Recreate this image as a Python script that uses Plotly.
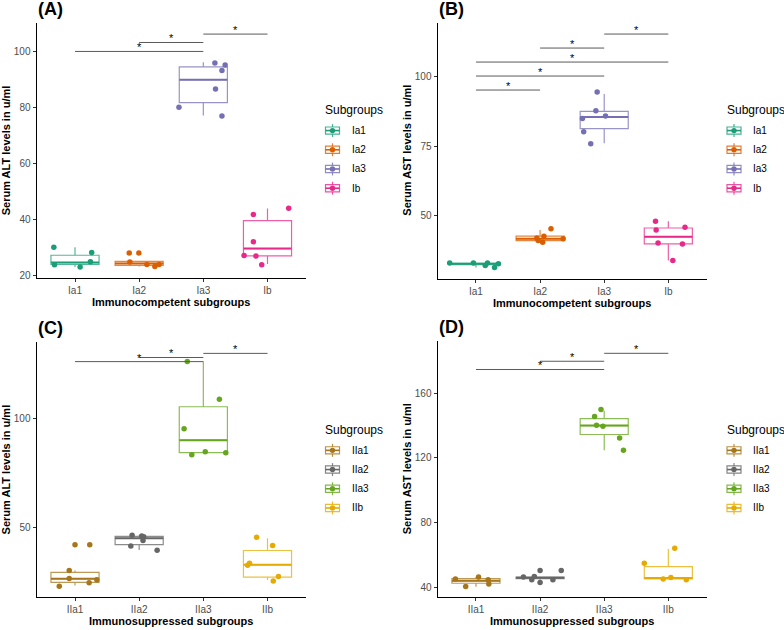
import plotly.graph_objects as go

W, H = 784, 630
FONT = "Liberation Sans, Arial, Helvetica, sans-serif"

# ---------------- data ----------------
cats_a = ["Ia1", "Ia2", "Ia3", "Ib"]
cats_c = ["IIa1", "IIa2", "IIa3", "IIb"]
colors_a = ["#1B9E77", "#D95F02", "#7570B3", "#E7298A"]
colors_c = ["#A6761D", "#666666", "#66A61E", "#E6AB02"]

# Panel A: serum ALT, immunocompetent subgroups
alt_ia1 = [30.1, 23.8, 23.0, 28.2, 24.9]
alt_ia2 = [28.0, 28.0, 24.8, 23.9, 23.2, 23.9]
alt_ia3 = [95.9, 95.2, 93.2, 86.6, 80.1, 76.9]
alt_ib = [27.1, 41.8, 32.0, 26.9, 23.8, 44.0]
jit_alt_ia1 = [-0.33, -0.32, 0.08, 0.26, 0.24]
jit_alt_ia2 = [-0.155, -0.005, -0.145, 0.12, 0.245, 0.31]
jit_alt_ia3 = [0.18, 0.34, 0.29, 0.19, -0.38, 0.29]
jit_alt_ib = [-0.365, -0.22, -0.22, -0.18, -0.09, 0.33]
a_q1 = [23.9, 23.6, 81.7, 27.0]
a_med = [24.6, 24.3, 89.9, 29.6]
a_q3 = [27.2, 25.0, 94.5, 39.6]
a_lo = [23.0, 23.2, 77.1, 24.1]
a_hi = [30.1, 25.0, 96.1, 43.9]
a_sig = [(1, 3, 100.0), (2, 3, 103.2), (3, 4, 106.2)]

# Panel B: serum AST, immunocompetent subgroups
ast_ia1 = [33.2, 33.2, 32.3, 33.2, 31.6, 32.9]
ast_ia2 = [41.2, 40.6, 42.8, 45.4, 41.9, 42.1]
ast_ia3 = [94.3, 87.6, 85.7, 84.8, 80.1, 75.8]
ast_ib = [48.1, 45.0, 46.0, 40.3, 40.0, 34.1]
jit_ast_ia1 = [-0.41, -0.04, 0.145, 0.18, 0.29, 0.35]
jit_ast_ia2 = [-0.03, 0.04, 0.06, 0.17, 0.36, -0.05]
jit_ast_ia3 = [-0.11, -0.13, 0.02, -0.34, -0.32, -0.21]
jit_ast_ib = [-0.2, -0.19, 0.26, -0.16, 0.22, 0.07]
b_q1 = [32.6, 41.2, 81.2, 40.0]
b_med = [32.9, 41.9, 85.4, 42.6]
b_q3 = [33.1, 42.8, 87.4, 45.7]
b_lo = [31.6, 40.7, 76.0, 34.1]
b_hi = [33.2, 45.0, 93.6, 48.1]
b_sig = [(1, 2, 95.0), (1, 3, 100.0), (1, 4, 105.0), (2, 3, 110.0), (3, 4, 115.0)]

# Panel C: serum ALT, immunosuppressed subgroups
alt_iia1 = [41.9, 41.9, 30.0, 26.3, 22.7, 24.3, 25.7]
alt_iia2 = [46.2, 45.9, 45.6, 43.8, 41.3, 39.3]
alt_iia3 = [126.3, 108.9, 95.3, 83.4, 84.7, 84.3]
alt_iib = [45.3, 41.5, 33.3, 32.4, 27.2, 25.1]
jit_alt_iia1 = [0.0, 0.23, -0.09, -0.09, -0.245, 0.22, 0.34]
jit_alt_iia2 = [-0.11, 0.04, 0.07, 0.06, -0.13, 0.28]
jit_alt_iia3 = [-0.25, 0.25, -0.30, -0.18, 0.03, 0.35]
jit_alt_iib = [-0.17, 0.08, -0.28, -0.31, 0.17, 0.09]
c_q1 = [24.5, 41.9, 84.3, 26.9]
c_med = [26.2, 44.8, 90.1, 32.6]
c_q3 = [29.1, 45.7, 105.5, 39.2]
c_lo = [23.1, 39.4, 84.3, 25.6]
c_hi = [30.0, 46.2, 126.3, 44.9]
c_sig = [(1, 3, 126.3), (2, 3, 128.2), (3, 4, 130.1)]

# Panel D: serum AST, immunosuppressed subgroups
ast_iia1 = [45.1, 40.4, 46.2, 44.5, 42.0]
ast_iia2 = [46.2, 44.5, 46.6, 50.3, 42.9, 44.5, 50.3]
ast_iia3 = [149.8, 145.6, 140.1, 139.5, 132.3, 124.7]
ast_iib = [54.8, 64.0, 45.1, 45.9, 44.5]
jit_ast_iia1 = [-0.32, -0.16, 0.04, 0.19, 0.2]
jit_ast_iia2 = [-0.26, -0.13, -0.09, 0.0, 0.0, 0.2, 0.33]
jit_ast_iia3 = [-0.05, -0.15, -0.12, -0.02, 0.24, 0.30]
jit_ast_iib = [-0.375, 0.10, -0.08, 0.04, 0.28]
d_q1 = [42.4, 45.3, 134.4, 45.1]
d_med = [43.9, 45.8, 139.9, 45.7]
d_q3 = [45.3, 46.2, 144.2, 52.7]
d_lo = [40.2, 44.5, 124.7, 45.1]
d_hi = [46.2, 46.6, 149.1, 63.6]
d_sig = [(1, 3, 174.6), (2, 3, 179.7), (3, 4, 184.6)]

# ---------------- helpers ----------------
def px(x):
    return x / W

def py(y):
    return 1 - y / H

def rgba(hexc, a):
    h = hexc.lstrip("#")
    r, g, b = int(h[0:2], 16), int(h[2:4], 16), int(h[4:6], 16)
    return f"rgba({r},{g},{b},{a})"

panels = [
    dict(label="(A)", cats=cats_a, colors=colors_a,
         vals=[alt_ia1, alt_ia2, alt_ia3, alt_ib],
         jits=[jit_alt_ia1, jit_alt_ia2, jit_alt_ia3, jit_alt_ib],
         q1=a_q1, med=a_med, q3=a_q3, lo=a_lo, hi=a_hi, sig=a_sig,
         ytitle="Serum ALT levels in u/ml", xtitle="Immunocompetent subgroups",
         box=(36.5, 306, 23, 279), yr=[19.2, 110.2], yt=[20, 40, 60, 80, 100],
         leg_x=324, leg_y=111, key_y0=131.2),
    dict(label="(B)", cats=cats_a, colors=colors_a,
         vals=[ast_ia1, ast_ia2, ast_ia3, ast_ib],
         jits=[jit_ast_ia1, jit_ast_ia2, jit_ast_ia3, jit_ast_ib],
         q1=b_q1, med=b_med, q3=b_q3, lo=b_lo, hi=b_hi, sig=b_sig,
         ytitle="Serum AST levels in u/ml", xtitle="Immunocompetent subgroups",
         box=(437.5, 706.8, 22.7, 280), yr=[27.6, 119.1], yt=[50, 75, 100],
         leg_x=725.5, leg_y=111, key_y0=131.2),
    dict(label="(C)", cats=cats_c, colors=colors_c,
         vals=[alt_iia1, alt_iia2, alt_iia3, alt_iib],
         jits=[jit_alt_iia1, jit_alt_iia2, jit_alt_iia3, jit_alt_iib],
         q1=c_q1, med=c_med, q3=c_q3, lo=c_lo, hi=c_hi, sig=c_sig,
         ytitle="Serum ALT levels in u/ml", xtitle="Immunosuppressed subgroups",
         box=(36.5, 306, 343.3, 600), yr=[17.7, 135.5], yt=[50, 100],
         leg_x=324, leg_y=431.7, key_y0=452.5),
    dict(label="(D)", cats=cats_c, colors=colors_c,
         vals=[ast_iia1, ast_iia2, ast_iia3, ast_iib],
         jits=[jit_ast_iia1, jit_ast_iia2, jit_ast_iia3, jit_ast_iib],
         q1=d_q1, med=d_med, q3=d_q3, lo=d_lo, hi=d_hi, sig=d_sig,
         ytitle="Serum AST levels in u/ml", xtitle="Immunosuppressed subgroups",
         box=(437.5, 706.8, 343, 600), yr=[33.8, 192], yt=[40, 80, 120, 160],
         leg_x=725.5, leg_y=431.7, key_y0=452.5),
]

fig = go.Figure()
annotations = []
shapes = []
layout_axes = {}

for k, p in enumerate(panels, start=1):
    xa = "x" if k == 1 else f"x{k}"
    ya = "y" if k == 1 else f"y{k}"
    xkey = "xaxis" if k == 1 else f"xaxis{k}"
    ykey = "yaxis" if k == 1 else f"yaxis{k}"
    x0, x1, y0, y1 = p["box"]

    for i, cat in enumerate(p["cats"]):
        col = p["colors"][i]
        pos = i + 1
        fig.add_trace(go.Box(
            x=[pos], q1=[p["q1"][i]], median=[p["med"][i]], q3=[p["q3"][i]],
            lowerfence=[p["lo"][i]], upperfence=[p["hi"][i]],
            width=0.75, whiskerwidth=0, boxpoints=False,
            fillcolor="rgba(255,255,255,0)",
            line=dict(color=rgba(col, 0.75), width=1.2),
            showlegend=False, hoverinfo="skip", xaxis=xa, yaxis=ya))
        fig.add_trace(go.Scatter(
            x=[pos - 0.375, pos + 0.375], y=[p["med"][i], p["med"][i]],
            mode="lines", line=dict(color=col, width=2),
            showlegend=False, hoverinfo="skip", xaxis=xa, yaxis=ya))
        fig.add_trace(go.Scatter(
            x=[pos + j for j in p["jits"][i]], y=p["vals"][i],
            mode="markers", marker=dict(size=5.5, color=col),
            name=cat, showlegend=False, xaxis=xa, yaxis=ya))

    for (a, b, yv) in p["sig"]:
        fig.add_trace(go.Scatter(
            x=[a, b], y=[yv, yv], mode="lines",
            line=dict(color="#5a5a5a", width=1),
            showlegend=False, hoverinfo="skip", xaxis=xa, yaxis=ya))
        annotations.append(dict(
            x=(a + b) / 2, y=yv, xref=xa, yref=ya, text="*",
            showarrow=False, yanchor="middle", yshift=4,
            font=dict(size=11, color="black", family=FONT)))

    layout_axes[xkey] = dict(
        domain=[px(x0), px(x1)], range=[0.4, 4.6], anchor=ya,
        tickvals=[1, 2, 3, 4], ticktext=p["cats"],
        showline=True, linecolor="black", linewidth=1,
        ticks="outside", ticklen=3, tickcolor="#333333", tickwidth=1,
        tickfont=dict(size=10, color="#4D4D4D", family=FONT),
        showgrid=False, zeroline=False, fixedrange=True)
    layout_axes[ykey] = dict(
        domain=[py(y1), py(y0)], range=p["yr"], anchor=xa,
        tickvals=p["yt"],
        showline=True, linecolor="black", linewidth=1,
        ticks="outside", ticklen=3, tickcolor="#333333", tickwidth=1,
        tickfont=dict(size=10, color="#4D4D4D", family=FONT),
        showgrid=False, zeroline=False, fixedrange=True)

    # panel label
    annotations.append(dict(
        x=px(x0 - 1), y=py(y0 - 14), xref="paper", yref="paper",
        text=f"<b>{p['label']}</b>", showarrow=False,
        xanchor="left", yanchor="middle",
        font=dict(size=18, color="black", family=FONT)))
    # axis titles
    annotations.append(dict(
        x=px((x0 + x1) / 2), y=py(y1 + 24.3), xref="paper", yref="paper",
        text=f"<b>{p['xtitle']}</b>", showarrow=False,
        xanchor="center", yanchor="middle",
        font=dict(size=11, color="black", family=FONT)))
    annotations.append(dict(
        x=px(x0 - 30.5), y=py((y0 + y1) / 2), xref="paper", yref="paper",
        text=f"<b>{p['ytitle']}</b>", showarrow=False, textangle=-90,
        xanchor="center", yanchor="middle",
        font=dict(size=11, color="black", family=FONT)))

    # legend (ggplot-style boxplot keys)
    lx = p["leg_x"]
    annotations.append(dict(
        x=px(lx - 1), y=py(p["leg_y"]), xref="paper", yref="paper",
        text="Subgroups", showarrow=False, xanchor="left", yanchor="middle",
        font=dict(size=12, color="black", family=FONT)))
    for i, cat in enumerate(p["cats"]):
        col = p["colors"][i]
        cy = p["key_y0"] + 19.3 * i
        bx0, bx1, cx = lx + 1.5, lx + 15.5, lx + 8.5
        lc = rgba(col, 0.8)
        shapes.append(dict(type="rect", xref="paper", yref="paper",
                           x0=px(bx0), x1=px(bx1), y0=py(cy + 3.6), y1=py(cy - 3.6),
                           line=dict(color=lc, width=1.2), fillcolor="white"))
        shapes.append(dict(type="line", xref="paper", yref="paper",
                           x0=px(cx), x1=px(cx), y0=py(cy - 3.6), y1=py(cy - 6.5),
                           line=dict(color=lc, width=1.2)))
        shapes.append(dict(type="line", xref="paper", yref="paper",
                           x0=px(cx), x1=px(cx), y0=py(cy + 3.6), y1=py(cy + 6.5),
                           line=dict(color=lc, width=1.2)))
        shapes.append(dict(type="line", xref="paper", yref="paper",
                           x0=px(bx0), x1=px(bx1), y0=py(cy), y1=py(cy),
                           line=dict(color=col, width=1.6)))
        shapes.append(dict(type="circle", xref="paper", yref="paper",
                           x0=px(cx - 2.7), x1=px(cx + 2.7), y0=py(cy + 2.7), y1=py(cy - 2.7),
                           line=dict(color=col, width=0), fillcolor=col))
        annotations.append(dict(
            x=px(lx + 25.5), y=py(cy), xref="paper", yref="paper",
            text=cat, showarrow=False, xanchor="left", yanchor="middle",
            font=dict(size=10, color="black", family=FONT)))

fig.update_layout(
    width=W, height=H, margin=dict(l=0, r=0, t=0, b=0),
    paper_bgcolor="white", plot_bgcolor="white",
    font=dict(family=FONT), showlegend=False,
    annotations=annotations, shapes=shapes, **layout_axes)

fig.write_html("out.html")
